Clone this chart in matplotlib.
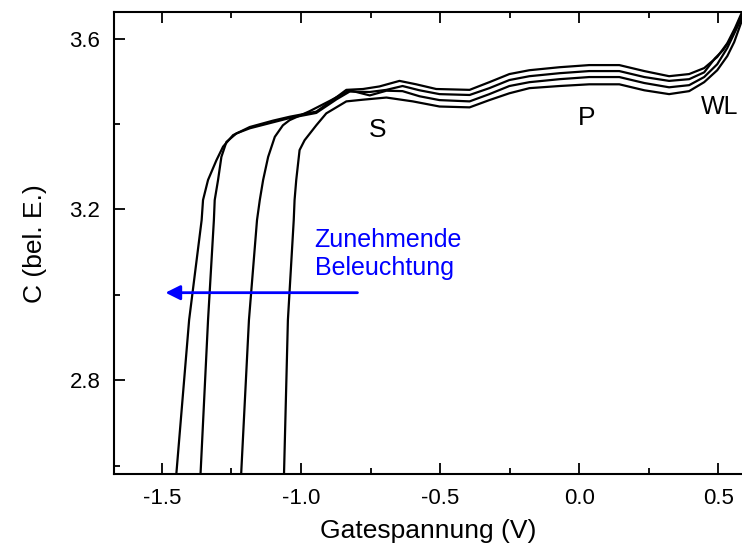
import matplotlib
matplotlib.use("Agg")
import matplotlib.pyplot as plt

plt.rcParams['font.family'] = ['Liberation Sans', 'DejaVu Sans']

# C-V Kurven, von links (staerkste Beleuchtung) nach rechts
x1 = [-1.448, -1.402, -1.357, -1.352, -1.334, -1.304, -1.280, -1.244, -1.184, -1.100, -1.041, -0.945,
      -0.872, -0.837, -0.777, -0.718, -0.646, -0.586, -0.514, -0.394, -0.323, -0.251, -0.179, -0.071,
      0.036, 0.144, 0.234, 0.323, 0.395, 0.449, 0.496, 0.532, 0.560, 0.585]
y1 = [2.580, 2.941, 3.175, 3.222, 3.269, 3.315, 3.347, 3.374, 3.393, 3.408, 3.417, 3.429,
      3.463, 3.480, 3.482, 3.488, 3.501, 3.493, 3.482, 3.480, 3.498, 3.517, 3.526, 3.533,
      3.538, 3.538, 3.524, 3.512, 3.517, 3.531, 3.557, 3.589, 3.625, 3.662]

x2 = [-1.361, -1.334, -1.313, -1.310, -1.298, -1.286, -1.268, -1.232, -1.184, -1.041, -0.945, -0.872,
      -0.825, -0.753, -0.693, -0.635, -0.574, -0.502, -0.394, -0.323, -0.251, -0.179, -0.071, 0.036,
      0.144, 0.234, 0.323, 0.395, 0.449, 0.488, 0.517, 0.546, 0.585]
y2 = [2.580, 2.941, 3.175, 3.222, 3.269, 3.323, 3.358, 3.378, 3.390, 3.414, 3.426, 3.458,
      3.476, 3.475, 3.480, 3.489, 3.479, 3.470, 3.468, 3.484, 3.503, 3.512, 3.519, 3.524,
      3.524, 3.510, 3.501, 3.505, 3.521, 3.554, 3.573, 3.601, 3.657]

x3 = [-1.215, -1.187, -1.158, -1.148, -1.136, -1.118, -1.094, -1.065, -1.041, -0.969, -0.897, -0.825,
      -0.753, -0.693, -0.635, -0.574, -0.502, -0.394, -0.323, -0.251, -0.179, -0.071, 0.036, 0.144,
      0.234, 0.323, 0.395, 0.449, 0.496, 0.532, 0.585]
y3 = [2.580, 2.941, 3.175, 3.222, 3.269, 3.323, 3.370, 3.397, 3.409, 3.430, 3.454, 3.479,
      3.467, 3.478, 3.477, 3.465, 3.456, 3.453, 3.470, 3.489, 3.498, 3.505, 3.510, 3.510,
      3.496, 3.486, 3.491, 3.510, 3.540, 3.578, 3.650]

x4 = [-1.061, -1.047, -1.026, -1.023, -1.017, -1.005, -0.987, -0.945, -0.909, -0.837, -0.777, -0.693,
      -0.598, -0.502, -0.394, -0.323, -0.251, -0.179, -0.071, 0.036, 0.144, 0.234, 0.323, 0.395,
      0.449, 0.496, 0.532, 0.557, 0.585]
y4 = [2.580, 2.941, 3.175, 3.222, 3.269, 3.339, 3.362, 3.397, 3.425, 3.453, 3.457, 3.462,
      3.453, 3.441, 3.439, 3.456, 3.472, 3.484, 3.489, 3.493, 3.493, 3.479, 3.470, 3.477,
      3.498, 3.526, 3.559, 3.592, 3.643]

xticks = [-1.5, -1.0, -0.5, 0.0, 0.5]
yticks = [2.8, 3.2, 3.6]

fig = plt.figure(figsize=(7.42, 5.52), dpi=100)
ax = fig.add_axes([0.154, 0.141, 0.846, 0.837])

for xs, ys in [(x1, y1), (x2, y2), (x3, y3), (x4, y4)]:
    ax.plot(xs, ys, color='black', linewidth=1.6, solid_joinstyle='round')

ax.set_xlim(-1.671, 0.585)
ax.set_ylim(2.580, 3.662)
ax.set_xticks(xticks)
ax.set_xticklabels(['-1.5', '-1.0', '-0.5', '0.0', '0.5'])
ax.set_yticks(yticks)
ax.set_xticks([-1.25, -0.75, -0.25, 0.25], minor=True)
ax.set_yticks([2.6, 3.0, 3.4], minor=True)
ax.tick_params(which='both', direction='in', top=True, right=False, width=1.3, labelsize=16)
ax.tick_params(which='major', length=8, pad=10)
ax.tick_params(which='minor', length=4)
for s in ['left', 'bottom', 'top']:
    ax.spines[s].set_linewidth(1.5)
ax.spines['right'].set_visible(False)

ax.set_xlabel('Gatespannung (V)', fontsize=19, labelpad=7)
ax.set_ylabel('C (bel. E.)', fontsize=19, labelpad=16)

ax.text(-0.724, 3.386, 'S', fontsize=19, ha='center', va='center')
ax.text(0.026, 3.414, 'P', fontsize=19, ha='center', va='center')
ax.text(0.503, 3.440, 'WL', fontsize=18, ha='center', va='center')

ax.annotate('', xy=(-1.497, 3.005), xytext=(-0.787, 3.005),
            arrowprops=dict(arrowstyle='-|>', color='blue', lw=2, mutation_scale=22))
ax.text(-0.951, 3.128, 'Zunehmende', color='blue', fontsize=18, va='center')
ax.text(-0.951, 3.062, 'Beleuchtung', color='blue', fontsize=18, va='center')

plt.savefig('out.png', dpi=100)
